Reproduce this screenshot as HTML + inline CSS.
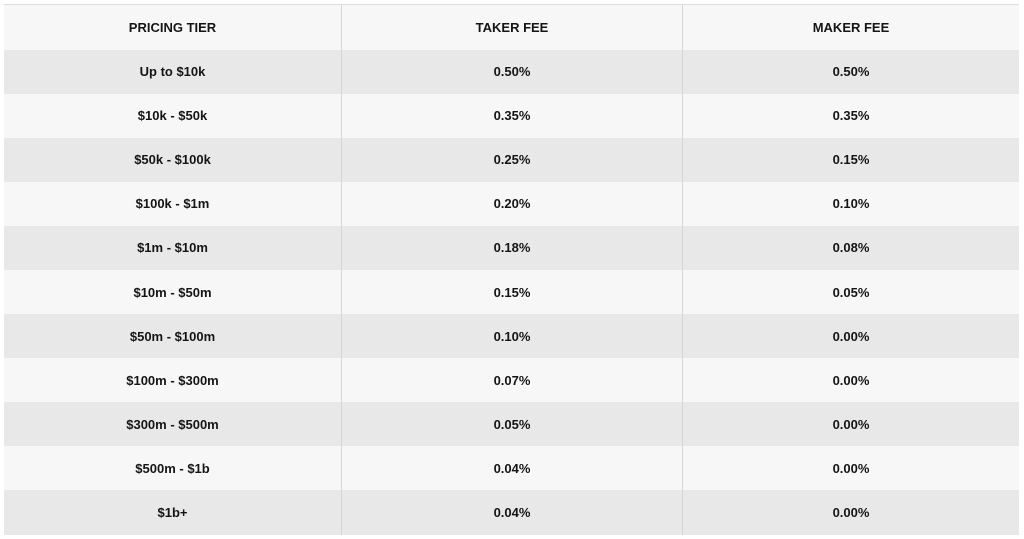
<!DOCTYPE html>
<html><head><meta charset="utf-8"><style>
html,body{margin:0;padding:0;background:#fff;width:1024px;height:539px;overflow:hidden}
.t{position:absolute;left:4px;top:4px;width:1015px;border-top:1px solid #ddd}
.r{display:flex;height:44.1px;background:#f7f7f7}
.r.h{height:44.5px}
.r.g{background:#e8e8e8}
.c{display:flex;align-items:center;justify-content:center;font:bold 13px "Liberation Sans",sans-serif;color:#151515}
.c1{width:337px;border-right:1px solid #d6d6d6}
.c2{width:340px;border-right:1px solid #d6d6d6}
.c3{flex:1}
</style></head><body>
<div class="t">
<div class="r h"><div class="c c1">PRICING TIER</div><div class="c c2">TAKER FEE</div><div class="c c3">MAKER FEE</div></div>
<div class="r g"><div class="c c1">Up to $10k</div><div class="c c2">0.50%</div><div class="c c3">0.50%</div></div>
<div class="r"><div class="c c1">$10k - $50k</div><div class="c c2">0.35%</div><div class="c c3">0.35%</div></div>
<div class="r g"><div class="c c1">$50k - $100k</div><div class="c c2">0.25%</div><div class="c c3">0.15%</div></div>
<div class="r"><div class="c c1">$100k - $1m</div><div class="c c2">0.20%</div><div class="c c3">0.10%</div></div>
<div class="r g"><div class="c c1">$1m - $10m</div><div class="c c2">0.18%</div><div class="c c3">0.08%</div></div>
<div class="r"><div class="c c1">$10m - $50m</div><div class="c c2">0.15%</div><div class="c c3">0.05%</div></div>
<div class="r g"><div class="c c1">$50m - $100m</div><div class="c c2">0.10%</div><div class="c c3">0.00%</div></div>
<div class="r"><div class="c c1">$100m - $300m</div><div class="c c2">0.07%</div><div class="c c3">0.00%</div></div>
<div class="r g"><div class="c c1">$300m - $500m</div><div class="c c2">0.05%</div><div class="c c3">0.00%</div></div>
<div class="r"><div class="c c1">$500m - $1b</div><div class="c c2">0.04%</div><div class="c c3">0.00%</div></div>
<div class="r g"><div class="c c1">$1b+</div><div class="c c2">0.04%</div><div class="c c3">0.00%</div></div>
</div>
</body></html>
